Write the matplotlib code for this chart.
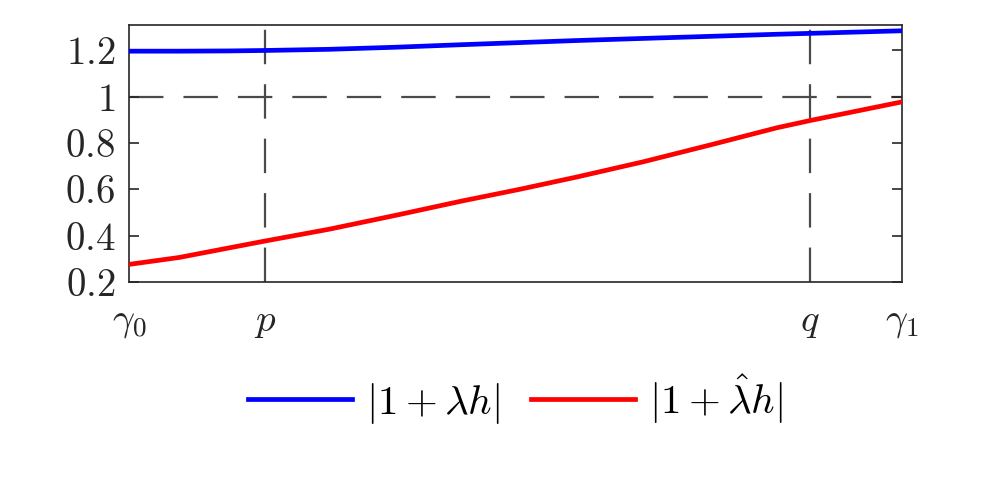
import numpy as np
import matplotlib
matplotlib.use("Agg")
import matplotlib.pyplot as plt

plt.rcParams['mathtext.fontset'] = 'cm'
plt.rcParams['font.family'] = 'serif'
plt.rcParams['font.serif'] = ['cmr10', 'DejaVu Serif']
plt.rcParams['axes.formatter.use_mathtext'] = True

# positions along the interval [gamma0, gamma1] (normalised)
x = [0.0, 0.065, 0.129, 0.176, 0.259, 0.345, 0.431, 0.505, 0.580, 0.665, 0.752, 0.838, 0.882, 1.0]
lam = [1.197, 1.197, 1.198, 1.200, 1.205, 1.214, 1.225, 1.234, 1.243, 1.252, 1.261, 1.270, 1.274, 1.285]
lam_hat = [0.276, 0.306, 0.347, 0.377, 0.428, 0.488, 0.550, 0.600, 0.654, 0.719, 0.792, 0.866, 0.898, 0.978]

p_pos = 0.176
q_pos = 0.881
xtick_labels = [r'$\gamma_\mathbf{0}$', r'$p$', r'$q$', r'$\gamma_\mathbf{1}$']
yticks = [0.2, 0.4, 0.6, 0.8, 1.0, 1.2]
ytick_labels = ['$0.2$', '$0.4$', '$0.6$', '$0.8$', '$1$', '$1.2$']

fig = plt.figure(figsize=(9.97, 4.98), dpi=100)
ax = fig.add_axes([129/997, 1-282/498, (902-129)/997, (282-25)/498])

dash = dict(color='#4a4a4a', lw=1.6, dashes=(15.5, 9), zorder=1)
ax.axhline(1.0, **dash)
ax.axvline(p_pos, **dash)
ax.axvline(q_pos, **dash)

ax.plot(x, lam, color='#0000ff', lw=3.4, label=r'$|1+\lambda h|$', zorder=3)
ax.plot(x, lam_hat, color='#ff0000', lw=3.4, label=r'$|1+\hat{\lambda} h|$', zorder=3)

ax.set_xlim(0, 1)
ax.set_ylim(0.2, 1.31)
ax.set_xticks([0, p_pos, q_pos, 1])
ax.set_xticklabels(xtick_labels)
ax.set_yticks(yticks)
ax.set_yticklabels(ytick_labels)
ax.tick_params(direction='in', length=7, width=1.2, colors='#262626', labelsize=28,
               right=True, top=False, pad=10)
ax.tick_params(axis='x', length=0, pad=16)
for s in ax.spines.values():
    s.set_color('#262626')
    s.set_linewidth(1.2)

ax.legend(loc='center', bbox_to_anchor=(0.5, -0.455), ncol=2, frameon=False,
          fontsize=29.5, handlelength=2.54, columnspacing=0.75, handletextpad=0.34)

fig.savefig('out.png', dpi=100)
